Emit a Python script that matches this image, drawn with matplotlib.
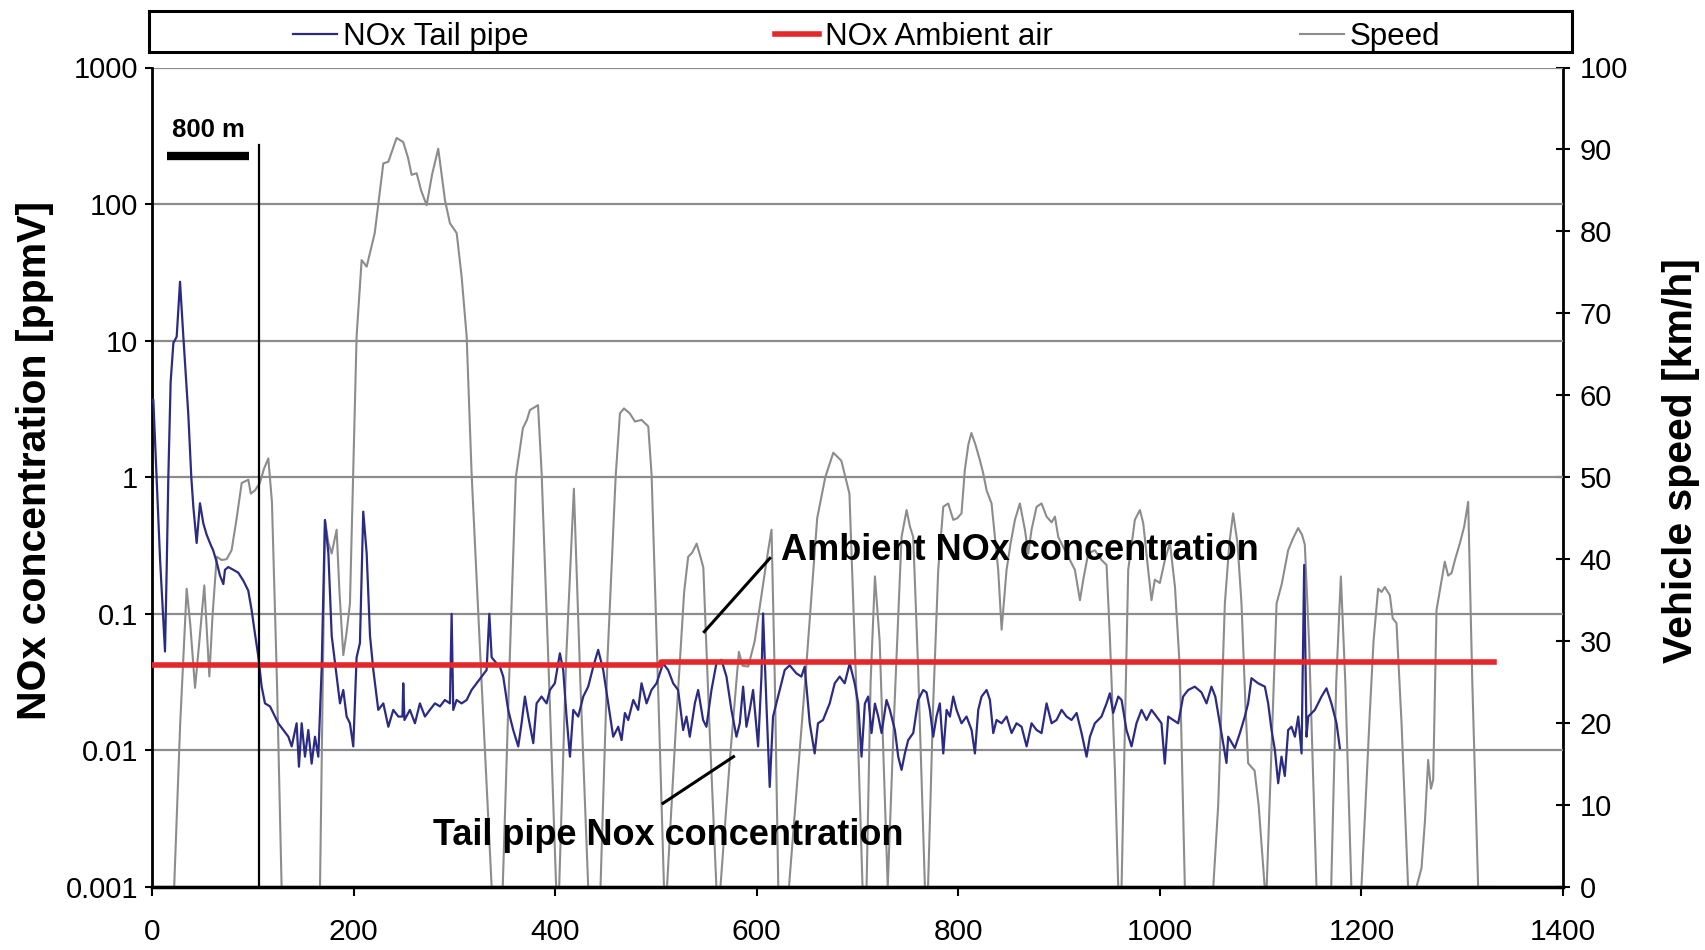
import matplotlib
matplotlib.use('Agg')
import matplotlib.pyplot as plt
from matplotlib.patches import Rectangle

plt.rcParams['font.family'] = ['Liberation Sans', 'DejaVu Sans']

# values (x axis is time / distance index)
nox_x = [0, 1.3, 4.6, 8, 12.9, 14.5, 16.2, 18.5, 21.2, 24.5, 27.8, 31.1, 36, 39, 41, 44.3, 47.6, 50.9,
         54.2, 57.5, 60.8, 64.1, 67.5, 70.8, 72.4, 75.7, 80.7, 85.6, 90.6, 95.5, 98.8, 102.1, 105.5,
         108.8, 112.1, 117.1, 122, 125.3, 130.3, 135.3, 138.6, 143.5, 145.8, 148.5, 151.8, 155.1,
         158.4, 161.7, 165, 168.3, 171.6, 175, 178.3, 183.2, 186.5, 189.8, 193.1, 196.4, 199.7, 203,
         206.3, 209.6, 213, 216.3, 219.6, 224.5, 229.5, 234.5, 239.4, 244.4, 248.5, 249.3, 250.5,
         255.9, 260.9, 265.8, 270.8, 275.7, 280.7, 285.7, 290.6, 295.6, 297.3, 298.9, 302.2, 307.2,
         312.2, 317.1, 322.1, 327, 332, 334.7, 337, 341.9, 345.2, 348.5, 353.4, 358.4, 363.4, 366.7,
         370, 373.3, 378.3, 381.6, 386.5, 391.5, 394.8, 399.7, 404.7, 408, 411.3, 414.7, 418, 422.9,
         427.9, 432.8, 437.8, 442.7, 447.7, 452.6, 457.6, 462.6, 465.9, 469.2, 472.5, 477.5, 482.4,
         485.7, 490.7, 495.6, 500.6, 507.1, 512.1, 517.1, 522, 527, 530.3, 533.6, 538.6, 541.9,
         546.8, 550.1, 555.1, 560, 565, 570, 574.9, 579.9, 583.2, 586.5, 589.8, 593.1, 596.4, 601.4,
         604.7, 606.3, 609.6, 612.9, 616.2, 622.8, 627.8, 632.7, 639.3, 644.3, 647.6, 652.6, 657.5,
         660.8, 665.8, 672.4, 677.4, 682.3, 687.3, 692.3, 697.2, 700.7, 704, 707.3, 710.6, 713.9,
         717.3, 720.6, 723.9, 728.8, 732.1, 737.1, 740.4, 743.7, 747, 750.3, 755.3, 760.2, 765.2,
         768.5, 771.8, 775.1, 778.4, 781.7, 785.1, 788.4, 791.7, 795, 798.3, 803.2, 808.2, 813.2,
         816.5, 819.8, 823.1, 828.1, 831.4, 834.7, 838, 843, 847.9, 852.9, 857.8, 862.8, 867.8,
         872.7, 877.7, 882.6, 887.6, 892.6, 897.5, 902.5, 907.4, 912.4, 917.4, 922.3, 927.3, 930.6,
         935.5, 942.1, 947.1, 950.4, 953.7, 958.7, 962, 966.9, 971.9, 976.8, 981.8, 986.8, 991.7,
         996.7, 1001.6, 1004.9, 1008.3, 1013.2, 1018.2, 1023.1, 1028.1, 1034.7, 1041.3, 1046.3,
         1051.2, 1055, 1059.5, 1066.1, 1067.8, 1074.4, 1079.4, 1084.3, 1087.6, 1090.9, 1097.5,
         1104.2, 1107.5, 1110.8, 1114.1, 1117.4, 1120.7, 1124, 1127.3, 1130.6, 1134, 1137.3, 1140.6,
         1143.2, 1145.5, 1147.2, 1153.8, 1160.4, 1165.3, 1170.3, 1175.3, 1178.6]
nox_ppm = [3.6, 3.7, 1.0, 0.25, 0.053, 0.2, 1.0, 5, 9.6, 10.7, 27, 10.7, 2.9, 1.0, 0.61, 0.33, 0.645, 0.46,
           0.38, 0.33, 0.29, 0.24, 0.19, 0.165, 0.21, 0.22, 0.21, 0.2, 0.175, 0.148, 0.107, 0.072, 0.0487,
           0.0293, 0.0221, 0.021, 0.0177, 0.0158, 0.0141, 0.0126, 0.0107, 0.0158, 0.0076, 0.0158, 0.009, 0.0141,
           0.008, 0.0126, 0.009, 0.0388, 0.486, 0.277, 0.069, 0.0347, 0.0221, 0.0277, 0.0177, 0.0158, 0.0107, 0.048,
           0.061, 0.56, 0.277, 0.069, 0.0388, 0.0198, 0.0221, 0.0149, 0.0198, 0.0177, 0.0177, 0.031, 0.0167,
           0.0198, 0.0158, 0.0221, 0.0177, 0.0198, 0.0221, 0.021, 0.0234, 0.0221, 0.1, 0.0198, 0.0234, 0.0221,
           0.0234, 0.0277, 0.031, 0.0347, 0.0388, 0.1, 0.048, 0.0434, 0.041, 0.0347, 0.0198, 0.0141, 0.0107, 0.0158,
           0.0248, 0.0177, 0.0113, 0.0221, 0.0248, 0.0221, 0.0277, 0.031, 0.0514, 0.0388, 0.0177, 0.009, 0.0198, 0.0177,
           0.0248, 0.0293, 0.041, 0.0545, 0.0388, 0.0221, 0.0126, 0.0149, 0.0119, 0.0188, 0.0167, 0.0234, 0.0198,
           0.031, 0.0221, 0.0277, 0.031, 0.0434, 0.0388, 0.031, 0.0277, 0.0141, 0.0177, 0.0126, 0.0221, 0.0277,
           0.0167, 0.0149, 0.0277, 0.0434, 0.046, 0.0347, 0.0198, 0.0126, 0.0158, 0.0293, 0.0149, 0.0198, 0.0277, 0.0107,
           0.0347, 0.1008, 0.0221, 0.0054, 0.0177, 0.0277, 0.0388, 0.042, 0.0367, 0.0347, 0.041, 0.0158, 0.0095,
           0.0158, 0.0167, 0.0221, 0.031, 0.0347, 0.031, 0.0434, 0.031, 0.0221, 0.009, 0.022, 0.0248, 0.0134,
           0.022, 0.0177, 0.0134, 0.0234, 0.0198, 0.0141, 0.009, 0.0072, 0.0095, 0.0119, 0.0134, 0.0234, 0.0277,
           0.0266, 0.0198, 0.0126, 0.0177, 0.0221, 0.0095, 0.0198, 0.0177, 0.0248, 0.0198, 0.0158, 0.0177, 0.0141,
           0.0095, 0.0198, 0.0248, 0.0277, 0.0234, 0.0134, 0.0167, 0.0158, 0.0177, 0.0134, 0.0158, 0.0149, 0.0107,
           0.0158, 0.0141, 0.0134, 0.0221, 0.0158, 0.0167, 0.0198, 0.0177, 0.0167, 0.0188, 0.0134, 0.009, 0.0126,
           0.0158, 0.0177, 0.0221, 0.0262, 0.0188, 0.0248, 0.0234, 0.0141, 0.0107, 0.0158, 0.0198, 0.0167, 0.0198,
           0.0177, 0.0158, 0.008, 0.0177, 0.0167, 0.0158, 0.0248, 0.0277, 0.0293, 0.0266, 0.0221,
           0.0293, 0.0248, 0.0158, 0.0081, 0.0126, 0.0104, 0.0134, 0.0177, 0.0222, 0.0338, 0.031,
           0.0293, 0.022, 0.0141, 0.0101, 0.00575, 0.009, 0.0065, 0.0141, 0.0149, 0.0126, 0.0177, 0.0095,
           0.228, 0.0126, 0.0177, 0.0198, 0.0248, 0.0285, 0.022, 0.0158, 0.0104]

ambient_x = [0, 505, 505, 1332]
ambient_ppm = [0.0425, 0.0425, 0.0445, 0.0445]

speed_x = [0, 22, 28, 34.4, 38, 42.7, 47, 51.9, 56.9, 60, 64.2, 69.1, 74, 79, 84, 89, 95.6, 98, 102.2, 107,
           111, 115.4, 119, 124, 128.6, 166.7, 171.6, 175, 178.3, 183.2, 186, 189.8, 193, 196.4, 199.7, 203,
           208, 213, 221, 229.5, 234.5, 242.7, 249.3, 254, 257.6, 262.6, 267, 272.5, 278, 284, 290.7, 295.6,
           302.3, 307.2, 312.2, 317.1, 327, 337, 348, 355, 361, 368, 372, 375, 383, 386.6, 394, 401, 404,
           411, 418.6, 425, 432.8, 445, 452, 460, 464.3, 468.3, 474, 479.2, 485.8, 492.4, 495.7, 502, 508,
           511, 520, 528, 532, 536, 540.4, 543.7, 547, 553, 560, 564, 573, 582.3, 586, 591.6, 598, 604.9,
           610, 614.7, 618, 621.4, 632, 648, 660, 668, 676, 684, 692, 700, 705, 709, 713, 717.3, 722, 730,
           736, 743.7, 748.7, 752, 755.3, 760.2, 766.9, 770, 775, 780.1, 785.1, 790, 795, 799, 803.2, 806.5,
           810, 813, 817, 821.4, 824.7, 828.1, 833, 839.6, 843, 847.9, 852, 856.2, 861.1, 866.1, 869.4,
           872.7, 877.7, 882.6, 887.6, 892.6, 895.9, 899.2, 904.2, 909.1, 915.7, 920.7, 924, 928.9, 935.5,
           942.1, 947.1, 950.4, 955.4, 958.7, 962, 968.6, 975.2, 980.2, 983.5, 988.4, 991.7, 995, 1000,
           1005, 1010, 1015, 1019.9, 1024.8, 1053, 1057.9, 1064.5, 1069, 1072.7, 1077, 1081, 1085, 1087.6,
           1094, 1098, 1104, 1106, 1115.8, 1121, 1127.3, 1132, 1137.2, 1141, 1143.8, 1148, 1155.4, 1170,
           1175, 1179.6, 1184, 1190, 1200, 1204, 1208.3, 1212, 1216.6, 1220, 1223.2, 1228.2, 1231, 1234.8,
           1239.8, 1246.3, 1254.6, 1259.6, 1263, 1266.2, 1269, 1271.2, 1274.5, 1282.7, 1286, 1289.4, 1293,
           1297.6, 1302, 1305.9, 1310, 1315.8, 1330]
speed_kmh = [0, 0, 20, 36.4, 32, 24.3, 30, 36.8, 25.7, 33, 40.3, 39.9, 40, 41.1, 45, 49.3, 49.7, 48, 48.4, 49.3,
             51, 52.3, 47, 25, 0, 0, 44.8, 42, 40.7, 43.6, 36, 28.3, 31, 34.6, 50.9, 67.2,
             76.5, 75.7, 79.8, 88.3, 88.5, 91.4, 90.9, 89, 86.9, 87.1, 85, 83.2, 87, 90.1, 83.8, 81,
             79.8, 74.5, 67.2, 50.5, 25, 0, 0, 28, 50, 56, 57, 58.2, 58.8, 50.5, 25, 0, 0,
             28, 48.6, 25, 0, 0, 28, 50, 57.8, 58.4, 57.8, 56.8, 57, 56.2, 50.3, 25, 0,
             0, 20, 36, 40.3, 40.8, 41.9, 40.5, 39, 20, 0, 0, 15, 28.7, 27, 26.9, 30, 35.8,
             40, 43.6, 25, 0, 0, 25, 45, 50, 53, 52, 48, 20, 0, 0, 25, 37.9, 30, 0,
             20, 42.7, 46, 44, 42.7, 26.5, 0, 0, 22, 38.7, 46.4, 46.8, 44.8, 45, 45.6, 50.9,
             54, 55.4, 54, 52.1, 50.5, 48.4, 46.8, 38.7, 31.4, 38.7, 42, 44.8, 46.8, 43.6, 40.7,
             43.6, 46.4, 46.8, 45.2, 44.5, 45.2, 42.7, 41.5, 40.3, 38.7, 35, 37.5, 40.7, 41.1,
             39.9, 39.3, 30.5, 14.3, 0, 0, 38.7, 44.8, 46, 44.4, 38.7, 35, 37.5, 37.1,
             39.9, 42, 36.6, 26.5, 0, 0, 10, 34.6, 42, 45.6, 42, 34.6, 22, 15.1,
             14.2, 10, 0, 0, 34.6, 37, 41.1, 42.5, 43.8, 43, 41.8, 30, 0, 0,
             25, 37.9, 25, 0, 0, 10, 21.2, 30, 36.4, 36, 36.6, 35.6, 32.8, 32.2,
             20, 0, 0, 2.3, 8, 15.5, 12, 13.1, 33.8, 39.7, 38, 38.3, 40,
             41.9, 44, 47, 25, 0, 0]

series_names = ['NOx Tail pipe', 'NOx Ambient air', 'Speed']
nox_ticks = [0.001, 0.01, 0.1, 1, 10, 100, 1000]
nox_tick_labels = ['0.001', '0.01', '0.1', '1', '10', '100', '1000']
x_ticks = [0, 200, 400, 600, 800, 1000, 1200, 1400]
speed_ticks = [0, 10, 20, 30, 40, 50, 60, 70, 80, 90, 100]

NAVY = '#2c2b84'
RED = '#e3282b'
GREY = '#8c8c8c'

fig = plt.figure(figsize=(17.06, 9.5), dpi=100)
ax = fig.add_axes([152 / 1706, 1 - 887 / 950, 1411 / 1706, 819.5 / 950])
ax2 = ax.twinx()

# speed sits underneath the concentration curves
speed_line, = ax2.plot(speed_x, speed_kmh, color=GREY, lw=1.5, zorder=2)
ax.set_zorder(ax2.get_zorder() + 1)
ax.patch.set_visible(False)

nox_line, = ax.plot(nox_x, nox_ppm, color=NAVY, lw=1.6, zorder=3)
amb_line, = ax.plot(ambient_x, ambient_ppm, color=RED, lw=4, zorder=4)

ax.set_yscale('log')
ax.set_ylim(0.001, 1000)
ax.set_xlim(0, 1400)
ax2.set_ylim(0, 100)

ax.yaxis.set_minor_locator(matplotlib.ticker.NullLocator())
ax.set_yticks(nox_ticks, nox_tick_labels)
ax.set_xticks(x_ticks)
ax2.set_yticks(speed_ticks)

ax.set_axisbelow(True)
ax.yaxis.grid(True, color=GREY, lw=1.6)
ax.xaxis.grid(False)

ax.tick_params(axis='y', direction='out', length=5, width=1.5, labelsize=21, pad=5)
ax.tick_params(axis='x', direction='out', length=6.5, width=1.5, labelsize=21.5, pad=16)
ax2.tick_params(axis='y', direction='inout', length=10, width=1.5, labelsize=21, pad=7)

for side in ['top', 'right']:
    ax.spines[side].set_visible(False)
for side in ['top', 'left', 'bottom']:
    ax2.spines[side].set_visible(False)
ax.spines['left'].set_linewidth(2)
ax.spines['bottom'].set_linewidth(2.5)
ax2.spines['right'].set_linewidth(2)

ax.set_ylabel('NOx concentration [ppmV]', fontsize=29.5, fontweight='bold', va='center')
ax.yaxis.set_label_coords((35 - 152) / 1411, 0.52)
ax2.set_ylabel('Vehicle speed [km/h]', fontsize=29.5, fontweight='bold', va='center', rotation=90)
ax2.yaxis.set_label_coords((1681 - 152) / 1411, 0.52)

# start marker and 800 m scale bar
ax.plot([106, 106], [0.001, 270], color='black', lw=1.6, zorder=5)
ax.plot([14.5, 96], [226, 226], color='black', lw=6, solid_capstyle='butt', zorder=5)
ax.text(56, 350, '800 m', ha='center', va='center', fontsize=18.5, fontweight='bold')

# callouts
ax.plot([548, 613], [0.074, 0.255], color='black', lw=2.2, zorder=5)
ax.text(624, 0.29, 'Ambient NOx concentration', ha='left', va='center', fontsize=26, fontweight='bold')
ax.plot([577, 507], [0.009, 0.0041], color='black', lw=2.2, zorder=5)
ax.text(279, 0.0024, 'Tail pipe Nox concentration', ha='left', va='center', fontsize=26, fontweight='bold')

# legend in a square box across the top
fig.add_artist(Rectangle((149 / 1706, 1 - 52 / 950), 1423 / 1706, 41 / 950,
                         transform=fig.transFigure, fill=False, ec='black', lw=2.2))
fig.legend([nox_line, amb_line, speed_line], series_names, loc='center',
           bbox_to_anchor=(0.508, 1 - 37 / 950), ncol=3, frameon=False, fontsize=22.5,
           handlelength=1.4, handletextpad=0.2, columnspacing=7.9, borderpad=0, borderaxespad=0)

fig.savefig('out.png', dpi=100)
